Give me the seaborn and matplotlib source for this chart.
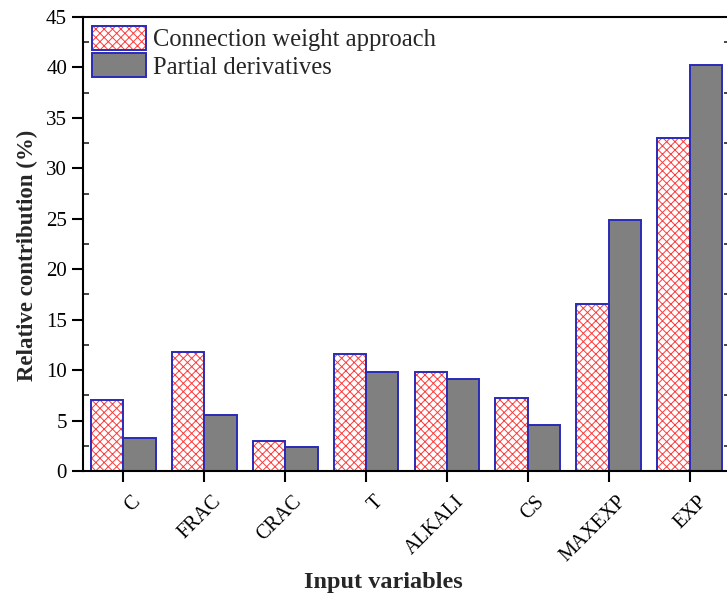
import matplotlib
matplotlib.use("Agg")
import matplotlib.pyplot as plt
import matplotlib.transforms as mtransforms
import seaborn as sns
import pandas as pd
from matplotlib.ticker import MultipleLocator

categories = ["C", "FRAC", "CRAC", "T", "ALKALI", "CS", "MAXEXP", "EXP"]
connection_weight = [7.0, 11.8, 3.0, 11.6, 9.8, 7.2, 16.6, 33.0]
partial_derivatives = [3.3, 5.6, 2.4, 9.8, 9.1, 4.6, 24.9, 40.2]
series_names = ["Connection weight approach", "Partial derivatives"]

df = pd.DataFrame({
    "var": categories * 2,
    "val": connection_weight + partial_derivatives,
    "method": [series_names[0]] * len(categories) + [series_names[1]] * len(categories),
})

sns.set_style("ticks")
plt.rcParams["font.family"] = ["Liberation Serif", "DejaVu Serif"]
plt.rcParams["hatch.linewidth"] = 0.7

fig = plt.figure(figsize=(7.27, 5.98), dpi=100)
ax = fig.add_axes([83 / 727, 127 / 598, (730 - 83) / 727, (471 - 17) / 598])

edge_blue = "#2a2ab8"
sns.barplot(data=df, x="var", y="val", hue="method", order=categories,
            hue_order=series_names,
            palette={series_names[0]: "white", series_names[1]: "#808080"},
            saturation=1, width=0.8, gap=0, legend=False, ax=ax,
            edgecolor=edge_blue, linewidth=1.4)

for p in ax.containers[0].patches:
    p.set_hatch("xxxx")
    p._hatch_color = matplotlib.colors.to_rgba("#ff3a3a")

ax.set_xlim(-0.5, 7.5)
ax.set_ylim(0, 45)
ax.yaxis.set_major_locator(MultipleLocator(5))
ax.yaxis.set_minor_locator(MultipleLocator(2.5))

for s in ["left", "bottom", "top", "right"]:
    ax.spines[s].set_visible(True)
    ax.spines[s].set_linewidth(1.5)
    ax.spines[s].set_color("black")

ax.tick_params(axis="both", which="major", direction="out", length=8, width=1.5,
               labelsize=15, colors="black")
ax.tick_params(axis="x", labelsize=14.5)
ax.tick_params(axis="y", which="minor", direction="out", length=4, width=1.2)
ax.tick_params(axis="y", which="both", right=True)
ax.tick_params(axis="y", which="minor", right=True, direction="in")
ax.tick_params(axis="x", top=False)

offset = mtransforms.ScaledTranslation(14 / 100, -12 / 100, fig.dpi_scale_trans)
for lbl in ax.get_xticklabels():
    lbl.set_rotation(45)
    lbl.set_ha("right")
    lbl.set_va("center")
    lbl.set_rotation_mode("anchor")
    lbl.set_transform(lbl.get_transform() + offset)

ax.set_xlabel("Input variables", fontsize=17.5, fontweight="bold")
ax.xaxis.set_label_coords((383 - 83) / 647, (471 - 572) / 454)
ax.set_ylabel("Relative contribution (%)", fontsize=16.5, fontweight="bold", labelpad=6)
ax.yaxis.label.set_y((471 - 255) / 454)

ax.legend(handles=list(ax.containers), labels=series_names, loc="upper left",
          frameon=False, fontsize=17.7, handlelength=2.2, handleheight=1.15,
          borderaxespad=0.15, labelspacing=0.08, handletextpad=0.3,
          borderpad=0.2)

fig.savefig("out.png", dpi=100)
